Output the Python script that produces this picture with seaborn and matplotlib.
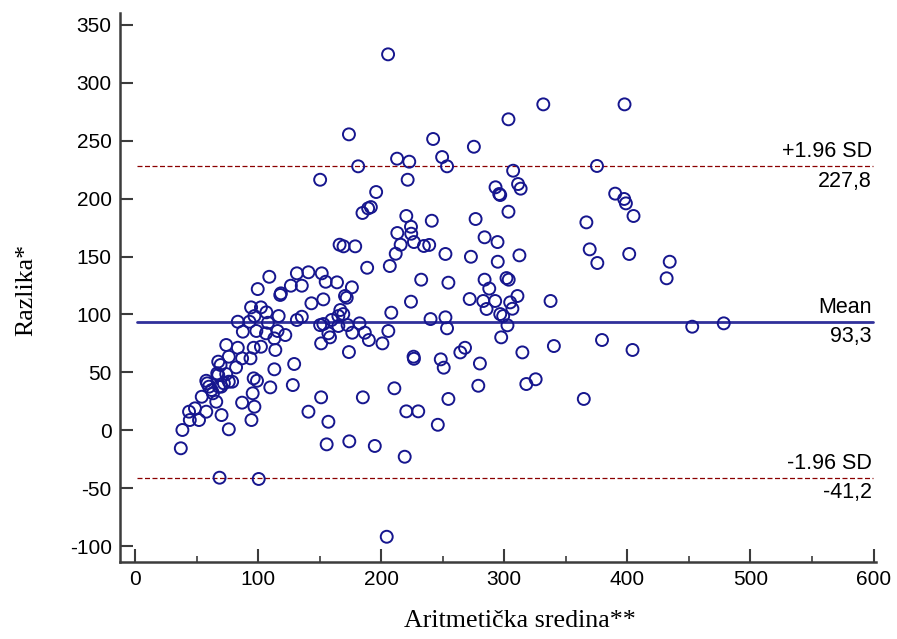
import numpy as np
import pandas as pd
import seaborn as sns
import matplotlib.pyplot as plt
from matplotlib.ticker import MultipleLocator
import matplotlib.transforms as mtransforms

# Arithmetic mean (x) and difference (y) of each pair
mean_vals = [
    205.6, 331.7, 303.4, 173.8, 242.2, 275.3, 212.9, 222.8, 249.5, 181.3, 253.5, 307.2,
    150.4, 221.5, 292.9, 295.9, 296.7, 311.2, 313.3, 195.9, 191.6, 189.4, 184.8, 220.4,
    224.2, 224.4, 213.1, 241.1, 276.7, 303.4, 284.0, 294.5, 226.6, 215.8, 211.8, 234.7,
    239.0, 166.2, 169.4, 178.9, 252.2, 272.9, 294.7, 312.3, 207.0, 188.6, 151.7, 154.9,
    164.1, 176.2, 170.6, 172.0, 153.0, 232.5, 254.6, 284.0, 287.8, 301.8, 303.6, 310.7,
    271.9, 282.9, 292.6, 304.8, 224.2, 337.6,
    285.6, 306.6, 296.7, 299.1, 302.6, 297.5, 208.2, 240.1, 252.2, 253.5, 166.8, 169.2,
    165.2, 159.7, 153.0, 150.4, 165.2, 172.7, 182.4, 157.1, 158.4, 176.5, 186.7, 190.0,
    201.0, 205.8, 151.2, 173.8, 226.3, 226.6, 248.4, 250.8, 264.3, 268.1, 280.2, 314.7,
    340.3, 278.9, 317.9, 325.5, 210.7, 185.1, 151.2, 254.6, 220.4, 230.1, 157.1, 246.0,
    155.7, 174.1, 194.8, 219.1, 204.5,
    397.7, 375.3, 390.1, 397.4, 398.8, 405.0, 366.7, 369.4, 375.6, 401.5, 434.4, 431.9,
    452.7, 478.3, 379.4, 404.2, 364.6,
    109.1, 131.5, 140.9, 126.6, 135.5, 99.7, 118.5, 118.0, 143.3, 94.3, 102.3, 106.7,
    116.7, 97.0, 83.5, 93.0, 108.0, 131.5, 135.5, 87.6, 98.6, 106.4, 115.8, 122.1,
    113.2, 102.3, 96.4, 74.1, 83.5, 76.2, 87.0, 93.8, 114.0, 67.6, 69.5, 82.1,
    74.1, 67.6, 78.9, 70.0, 129.3, 113.2, 96.4, 99.1, 109.9, 128.2, 57.9, 58.7,
    60.1, 62.2, 54.2, 63.3, 66.0, 68.1, 95.6, 87.0, 97.0, 70.3, 57.9, 48.7,
    43.9, 52.0, 44.5, 38.5, 37.2, 76.2, 94.6, 140.9, 66.8, 72.2, 76.2, 68.7, 100.5,
]
diff_vals = [
    324.6, 281.4, 268.5, 255.5, 251.5, 244.8, 234.5, 231.9, 235.9, 227.9, 227.9, 224.1,
    216.3, 216.3, 209.8, 204.0, 203.1, 212.6, 208.6, 205.7, 192.7, 191.6, 187.6, 185.0,
    175.7, 169.7, 170.3, 180.9, 182.4, 188.7, 166.6, 162.5, 162.5, 160.2, 152.4, 159.1,
    160.0, 160.2, 158.8, 158.8, 152.2, 149.8, 145.5, 151.0, 141.8, 140.3, 135.5, 128.2,
    127.7, 123.4, 115.9, 114.4, 113.0, 130.0, 127.4, 130.0, 122.3, 131.4, 130.0, 115.9,
    113.3, 111.6, 111.6, 110.4, 111.0, 111.6,
    104.7, 104.9, 100.3, 98.6, 90.6, 80.2, 101.5, 96.0, 97.5, 88.0, 103.8, 100.3,
    98.6, 95.2, 91.7, 90.8, 90.0, 90.8, 92.3, 83.7, 80.2, 84.2, 84.2, 77.9,
    75.0, 85.7, 75.0, 67.5, 63.5, 61.7, 61.2, 54.0, 67.2, 71.2, 57.6, 67.2,
    72.7, 38.4, 39.9, 44.0, 36.2, 28.4, 28.4, 27.0, 16.3, 16.3, 7.3, 4.7,
    -12.2, -9.6, -13.6, -22.9, -92.0,
    281.4, 228.2, 204.3, 199.7, 195.9, 185.0, 179.5, 156.2, 144.4, 152.2, 145.5, 131.2,
    89.4, 92.3, 77.9, 69.3, 27.0,
    132.5, 135.5, 136.4, 124.8, 124.8, 121.9, 118.2, 116.8, 109.6, 106.1, 106.1, 101.8,
    98.6, 98.6, 93.7, 93.7, 92.8, 95.2, 98.0, 85.1, 85.7, 83.7, 85.7, 82.2,
    79.3, 72.1, 71.2, 73.6, 71.2, 63.5, 62.1, 62.1, 69.3, 59.2, 56.3, 54.3,
    48.5, 47.7, 41.9, 37.6, 57.2, 52.6, 44.8, 42.7, 37.0, 39.0, 42.7, 40.5,
    37.6, 34.7, 28.9, 31.9, 24.6, 37.6, 31.9, 23.8, 20.3, 13.1, 16.0, 18.9,
    16.0, 8.8, 8.8, 0.2, -15.6, 0.8, 8.8, 16.0, 49.1, 40.5, 41.9, -41.0, -42.1,
]

mean_diff = 93.3
upper_loa = 227.8
lower_loa = -41.2

df = pd.DataFrame({'mean': mean_vals, 'diff': diff_vals})

sns.set_theme(style='white')
plt.rcParams['font.family'] = ['Liberation Sans', 'DejaVu Sans']
plt.rcParams['axes.unicode_minus'] = False
plt.rcParams['text.color'] = 'black'
plt.rcParams['axes.labelcolor'] = 'black'

fig = plt.figure(figsize=(8.97, 6.39), dpi=100)
ax = fig.add_axes([120 / 897, 1 - 562 / 639, 756 / 897, 549 / 639])

sns.scatterplot(data=df, x='mean', y='diff', ax=ax, marker='o', s=74,
                facecolor='none', edgecolor='#16168e', linewidth=1.4, zorder=3)

# mean line and limits of agreement
ax.axhline(mean_diff, xmin=0.0225, xmax=0.996, color='#30309a', lw=2.0, zorder=2)
for v in (upper_loa, lower_loa):
    ax.axhline(v, xmin=0.0225, xmax=0.996, color='#8b0000', lw=0.9,
               linestyle=(0, (4, 2)), zorder=2)

trans = mtransforms.blended_transform_factory(ax.transAxes, ax.transData)
labels = [('+1.96 SD', upper_loa), ('Mean', mean_diff), ('-1.96 SD', lower_loa)]
for name, v in labels:
    ax.annotate(name, xy=(0.9947, v), xycoords=trans, xytext=(0, 3),
                textcoords='offset points', ha='right', va='bottom', fontsize=15.5,
                color='black')
    ax.annotate(f'{v:.1f}'.replace('.', ','), xy=(0.9947, v), xycoords=trans,
                xytext=(0, -3), textcoords='offset points', ha='right', va='top',
                fontsize=15.5, color='black')

ax.set_xlim(-12.2, 602)
ax.set_ylim(-113.8, 360.3)
ax.xaxis.set_major_locator(MultipleLocator(100))
ax.xaxis.set_minor_locator(MultipleLocator(50))
ax.yaxis.set_major_locator(MultipleLocator(50))

for side in ('top', 'right'):
    ax.spines[side].set_visible(False)
for side in ('left', 'bottom'):
    ax.spines[side].set_linewidth(1.8)
    ax.spines[side].set_color('#3c3c3c')

ax.tick_params(axis='both', which='major', direction='in', length=9.5, width=1.5,
               color='#3c3c3c', labelsize=15, pad=6, labelcolor='black',
               left=True, bottom=True)
ax.tick_params(axis='x', which='minor', direction='in', length=4.5, width=1.2,
               color='#3c3c3c', bottom=True)

ax.set_xlabel('Aritmetička sredina**', family=['Liberation Serif'], fontsize=18.7,
              color='black')
ax.set_ylabel('Razlika*', family=['Liberation Serif'], fontsize=18.7, color='black')
ax.xaxis.set_label_coords(0.529, -0.088)
ax.yaxis.set_label_coords(-0.109, 0.495)

fig.savefig('out.png', dpi=100)
